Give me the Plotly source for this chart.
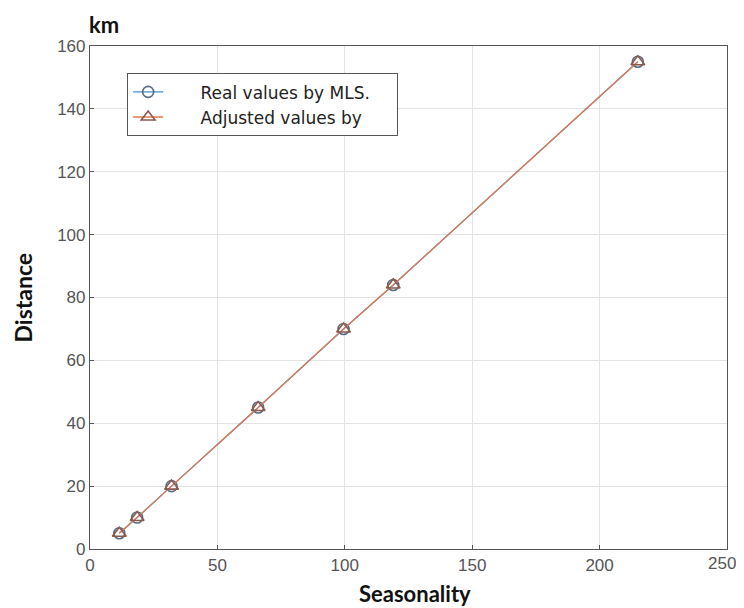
import plotly.graph_objects as go

seasonality = [11.5, 18.5, 32, 66, 99.5, 119, 215]
real_distance = [5, 10, 20, 45, 70, 84, 155]
adjusted_distance = [5, 10, 20, 45, 70, 84, 155]
x_ticks = [0, 50, 100, 150, 200, 250]
y_ticks = [0, 20, 40, 60, 80, 100, 120, 140, 160]
series_names = ["Real values by MLS.", "Adjusted values by"]

blue = "#3f8fd2"
orange = "#e07a52"
pad_l = "\u00a0" * 6
pad_r = "\u00a0" * 4
tick_font = dict(family="Liberation Sans, Arial", size=17, color="#555555")

# last x tick label is drawn as an annotation so it is not clipped at the page edge
x_ticktext = [str(v) for v in x_ticks[:-1]] + [""]

fig = go.Figure()
fig.add_trace(go.Scatter(
    x=seasonality, y=real_distance, mode="lines+markers",
    name=pad_l + series_names[0] + pad_r,
    line=dict(color=blue, width=1.3),
    marker=dict(symbol="circle-open", size=11, color="#5a6a80", line=dict(width=1.6)),
))
fig.add_trace(go.Scatter(
    x=seasonality, y=adjusted_distance, mode="lines+markers",
    name=pad_l + series_names[1] + pad_r,
    line=dict(color=orange, width=1.3),
    marker=dict(symbol="triangle-up-open", size=12, color="#8a5a50", line=dict(width=1.6)),
))

axis_common = dict(
    showgrid=True, gridcolor="#e3e3e3", gridwidth=1,
    showline=True, linecolor="#555555", linewidth=1.2, mirror=True,
    ticks="inside", ticklen=4, tickcolor="#555555",
    zeroline=False,
    tickfont=tick_font,
)

# the page body adds an 8px margin on every side
fig.update_layout(
    width=728, height=600,
    margin=dict(l=82, r=9, t=38, b=59),
    paper_bgcolor="white", plot_bgcolor="white",
    xaxis=dict(range=[0, 250], tickvals=x_ticks, ticktext=x_ticktext, **axis_common),
    yaxis=dict(range=[0, 160], tickvals=y_ticks, **axis_common),
    showlegend=True,
    legend=dict(
        x=0.058, y=0.946, xanchor="left", yanchor="top",
        bgcolor="white", bordercolor="#555555", borderwidth=1.2,
        font=dict(family="DejaVu Sans", size=17, color="#222222"),
        itemwidth=30, tracegroupgap=0,
    ),
    annotations=[
        dict(text=str(x_ticks[-1]), xref="x", yref="paper", x=x_ticks[-1], y=0,
             xshift=-5, yshift=-14, xanchor="center", yanchor="middle", showarrow=False,
             font=tick_font),
        dict(text="<b>km</b>", xref="paper", yref="paper", x=-0.004, y=1.0, yshift=6,
             xanchor="left", yanchor="bottom", showarrow=False,
             font=dict(family="Lato, Open Sans", size=22, color="#111111")),
        dict(text="<b>Distance</b>", xref="paper", yref="paper", x=0, xshift=-68, y=0.5,
             xanchor="center", yanchor="middle", textangle=-90, showarrow=False,
             font=dict(family="Lato, Open Sans", size=23, color="#111111")),
        dict(text="<b>Seasonality</b>", xref="paper", yref="paper", x=0.51, y=0, yshift=-29,
             xanchor="center", yanchor="top", showarrow=False,
             font=dict(family="Lato, Open Sans", size=22, color="#111111")),
    ],
)

fig.write_html("out.html", config={"displayModeBar": False})
